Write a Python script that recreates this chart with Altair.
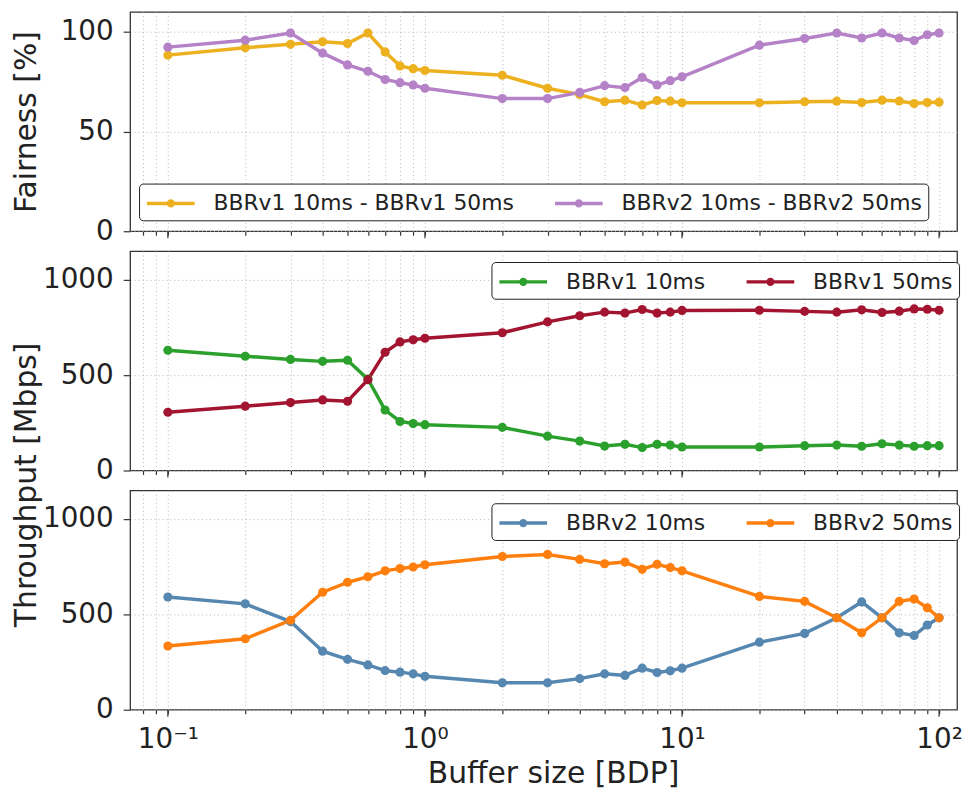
import altair as alt
import pandas as pd

# ---- data ----
buffer_bdp = [0.1, 0.2, 0.3, 0.4, 0.5, 0.6, 0.7, 0.8, 0.9, 1,
              2, 3, 4, 5, 6, 7, 8, 9, 10,
              20, 30, 40, 50, 60, 70, 80, 90, 100]

fair_v1 = [88.3, 92.0, 93.7, 95.0, 94.1, 99.4, 89.9, 82.9, 81.5, 80.6,
           78.2, 71.7, 68.5, 64.9, 65.7, 63.3, 65.5, 65.2, 64.4,
           64.4, 64.9, 65.2, 64.5, 65.7, 65.3, 64.0, 64.5, 64.7]
fair_v2 = [92.3, 95.8, 99.4, 89.3, 83.4, 80.2, 76.1, 74.5, 73.3, 71.7,
           66.5, 66.5, 69.6, 73.0, 72.0, 77.1, 73.3, 75.5, 77.4,
           93.3, 96.6, 99.4, 96.9, 99.4, 96.9, 95.6, 98.5, 99.4]

v1_10 = [630, 599, 582, 572, 578, 479, 317, 257, 246, 240,
         226, 180, 154, 128, 137, 120, 137, 133, 123,
         123, 130, 133, 127, 140, 133, 127, 130, 130]
v1_50 = [305, 337, 356, 370, 363, 476, 620, 674, 685, 693,
         722, 779, 811, 830, 825, 844, 825, 830, 839,
         840, 834, 830, 842, 828, 835, 847, 845, 840]

v2_10 = [591, 555, 462, 307, 264, 235, 205, 197, 188, 175,
         141, 141, 163, 188, 180, 218, 195, 204, 218,
         354, 400, 482, 565, 482, 403, 389, 444, 482]
v2_50 = [334, 372, 469, 616, 668, 697, 728, 740, 748, 760,
         803, 814, 788, 765, 774, 736, 762, 745, 728,
         594, 568, 482, 403, 482, 568, 580, 534, 482]

series_top = ["BBRv1 10ms - BBRv1 50ms", "BBRv2 10ms - BBRv2 50ms"]
series_mid = ["BBRv1 10ms", "BBRv1 50ms"]
series_bot = ["BBRv2 10ms", "BBRv2 50ms"]
colors_top = ["#edb120", "#b582c8"]
colors_mid = ["#2ca02c", "#a2142f"]
colors_bot = ["#5587b0", "#ff7f0e"]

x_ticks_all = [0.08, 0.09, 0.1, 0.2, 0.3, 0.4, 0.5, 0.6, 0.7, 0.8, 0.9,
               1, 2, 3, 4, 5, 6, 7, 8, 9, 10, 20, 30, 40, 50, 60, 70, 80, 90, 100]
x_ticks_major = [0.1, 1, 10, 100]
fair_ticks = [0, 50, 100]
thr_ticks = [0, 500, 1000]

# ---- layout constants ----
W = 833
H = 221
XDOMAIN = [0.0713, 117.5]
FONT = "DejaVu Sans"
TXT = "#222222"
FRAME = "#333333"
SYMBOL = "M-2,0H2M-0.2,0A0.2,0.2,0,1,1,0.2,0A0.2,0.2,0,1,1,-0.2,0Z"

label_expr = ("datum.value == 0.1 ? '10⁻¹' : datum.value == 1 ? '10⁰' : "
              "datum.value == 10 ? '10¹' : datum.value == 100 ? '10²' : ''")


def make_df(series, values):
    rows = []
    for name, vals in zip(series, values):
        for xv, yv in zip(buffer_bdp, vals):
            rows.append({"x": xv, "value": yv, "series": name})
    return pd.DataFrame(rows)


def panel(series, values, colors, ydomain, yticks, ytitle, legend_x, legend_y,
          bottom=False, title_y=None):
    df = make_df(series, values)
    xscale = alt.Scale(type="log", domain=XDOMAIN, nice=False, zero=False)

    xaxis_kw = dict(values=x_ticks_all, tickSize=4, tickColor=FRAME, tickWidth=1.2,
                    grid=True, gridDash=[1, 3], gridColor="#b5b5b5", gridWidth=1,
                    domain=False, labelFlush=False)
    if bottom:
        xaxis = alt.Axis(labels=True, labelExpr=label_expr, labelFontSize=28,
                         labelColor=TXT, labelPadding=12, labelOverlap=False,
                         title="Buffer size [BDP]", titleFontSize=30,
                         titleFontWeight="normal", titleColor=TXT, titlePadding=5,
                         titleX=426, **xaxis_kw)
    else:
        xaxis = alt.Axis(labels=False, title=None, **xaxis_kw)

    yaxis_kw = dict(values=yticks, format="d", tickSize=7, tickColor=FRAME, tickWidth=1.2,
                    labelFontSize=28, labelColor=TXT, labelPadding=10,
                    grid=True, gridDash=[1, 3], gridColor="#b5b5b5", gridWidth=1,
                    domain=False)
    if ytitle:
        extra = dict(title=ytitle, titleFontSize=30, titleFontWeight="normal",
                     titleColor=TXT, titleX=-89)
        if title_y is not None:
            extra["titleY"] = title_y
        yaxis = alt.Axis(**yaxis_kw, **extra)
    else:
        yaxis = alt.Axis(title=None, **yaxis_kw)

    legend = alt.Legend(orient="none", legendX=legend_x, legendY=legend_y,
                        direction="horizontal", columns=2, title=None,
                        symbolType=SYMBOL, symbolSize=576, symbolStrokeWidth=3.5,
                        symbolOffset=12,
                        labelFont=FONT, labelFontSize=22, labelColor=TXT,
                        labelLimit=500, labelOffset=29, columnPadding=34, padding=6,
                        strokeColor="#222222", fillColor="white", cornerRadius=4)

    lines = alt.Chart(df).mark_line(
        strokeWidth=3.5,
        point=alt.OverlayMarkDef(filled=True, size=85),
    ).encode(
        x=alt.X("x:Q", scale=xscale, axis=xaxis),
        y=alt.Y("value:Q", scale=alt.Scale(domain=ydomain, nice=False, zero=False), axis=yaxis),
        color=alt.Color("series:N", scale=alt.Scale(domain=series, range=colors),
                        legend=legend, sort=series),
        order=alt.Order("x:Q"),
    )

    majors = alt.Chart(pd.DataFrame({"x": x_ticks_major})).mark_rule(
        color=FRAME, strokeWidth=1.2
    ).encode(
        x=alt.X("x:Q", scale=xscale, axis=xaxis),
        y=alt.value(H),
        y2=alt.value(H + 7),
    )

    return alt.layer(lines, majors).properties(width=W, height=H)


top = panel(series_top, [fair_v1, fair_v2], colors_top, [0, 110], fair_ticks,
            "Fairness [%]", 9, 173)
mid = panel(series_mid, [v1_10, v1_50], colors_mid, [0, 1150], thr_ticks,
            "Throughput [Mbps]", 364, 11, title_y=235)
bot = panel(series_bot, [v2_10, v2_50], colors_bot, [0, 1150], thr_ticks,
            None, 364, 13, bottom=True)

chart = alt.vconcat(top, mid, bot, spacing=20, bounds="flush").resolve_scale(
    color="independent"
).properties(
    padding={"left": 3, "top": 0, "right": 2, "bottom": 0}
).configure(
    font=FONT
).configure_view(
    stroke=FRAME, strokeWidth=1.3
)

chart.save("out.html", embed_options={"renderer": "svg", "actions": False})
